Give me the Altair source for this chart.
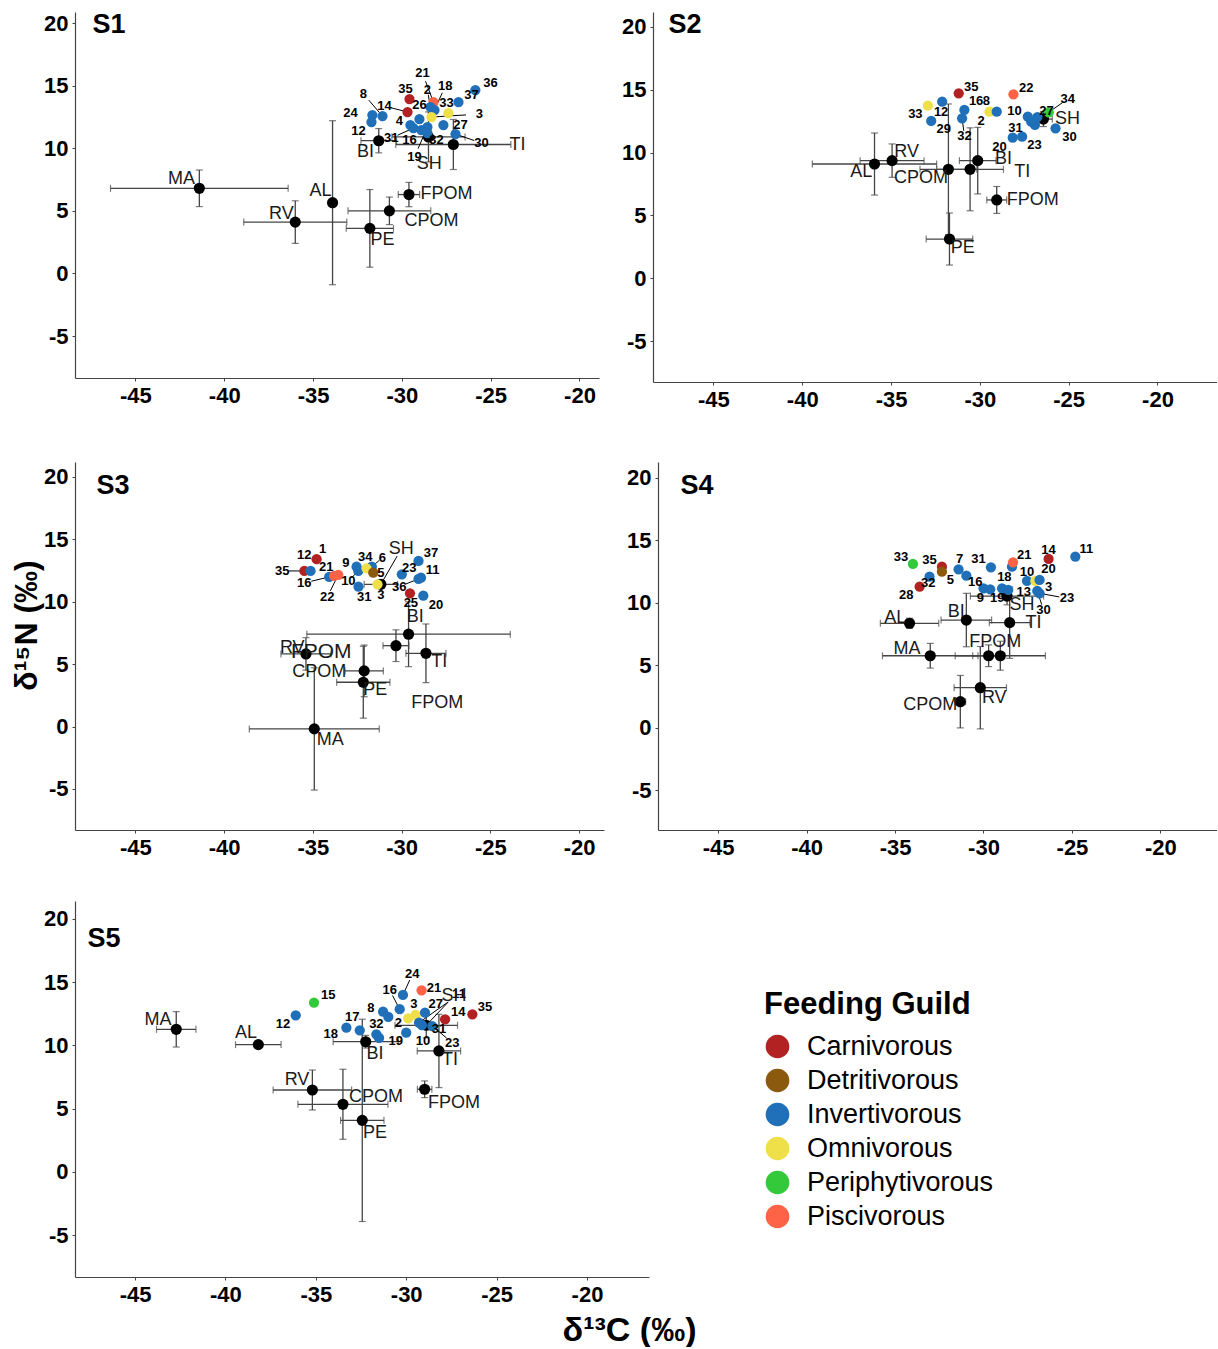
import altair as alt
import pandas as pd

FONT = "Liberation Sans"
GUILDS = ["Carnivorous", "Detritivorous", "Invertivorous", "Omnivorous", "Periphytivorous", "Piscivorous"]
GUILD_COLORS = ["#B22222", "#8B5A0F", "#1F70B8", "#EFE04A", "#33C93A", "#FF6347"]
GUILD_CODE = {"C": "Carnivorous", "D": "Detritivorous", "I": "Invertivorous",
              "O": "Omnivorous", "Pe": "Periphytivorous", "Pi": "Piscivorous"}
X_TICKS = [-45, -40, -35, -30, -25, -20]
Y_TICKS = [-5, 0, 5, 10, 15, 20]

# sources: name, d13C, d15N, sd13C, sd15N, label x, label y, leader line
S1_sources = [
    ("MA", -41.4, 6.8, 5.0, 1.46, -42.4, 7.54, 0),
    ("AL", -33.9, 5.65, 0.0, 6.55, -34.58, 6.58, 0),
    ("RV", -36.0, 4.1, 2.9, 1.7, -36.78, 4.74, 0),
    ("PE", -31.8, 3.6, 1.33, 3.1, -31.09, 2.67, 0),
    ("CPOM", -30.7, 5.0, 2.33, 1.1, -28.33, 4.19, 0),
    ("FPOM", -29.6, 6.3, 0.6, 0.97, -27.49, 6.34, 0),
    ("BI", -31.3, 10.6, 1.0, 0.97, -32.05, 9.7, 0),
    ("SH", -28.5, 10.9, 2.06, 2.0, -28.45, 8.74, 0),
    ("TI", -27.1, 10.3, 3.24, 2.0, -23.49, 10.26, 0),
]
S2_sources = [
    ("AL", -35.93, 9.09, 3.5, 2.47, -36.68, 8.43, 0),
    ("RV", -34.94, 9.36, 1.8, 1.33, -34.12, 10.07, 0),
    ("CPOM", -31.77, 8.67, 1.6, 5.2, -33.31, 7.95, 0),
    ("PE", -31.71, 3.12, 1.31, 2.07, -30.96, 2.38, 0),
    ("TI", -30.55, 8.67, 1.88, 3.3, -27.62, 8.48, 0),
    ("BI", -30.12, 9.36, 1.03, 2.65, -28.67, 9.49, 0),
    ("FPOM", -29.05, 6.23, 0.56, 1.07, -27.02, 6.23, 0),
    ("SH", -26.42, 12.67, 0.5, 0.6, -25.07, 12.67, 0),
]
S3_sources = [
    ("BI", -29.61, 7.4, 5.73, 2.6, -29.23, 8.78, 0),
    ("FPOM", -30.32, 6.48, 0.73, 1.27, -28.0, 1.89, 0),
    ("TI", -28.63, 5.87, 1.13, 2.35, -27.88, 5.2, 0),
    ("RV", -35.39, 5.82, 1.41, 1.3, -36.16, 6.3, 0),
    ("CPOM", -32.11, 4.46, 1.08, 2.07, -34.64, 4.38, 0),
    ("PE", -32.16, 3.55, 1.5, 2.88, -31.49, 2.93, 0),
    ("MA", -34.92, -0.19, 3.66, 4.9, -34.02, -1.07, 0),
    ("SH", -31.17, 11.4, 0.94, 0.3, -30.02, 14.23, 1),
]
S3_extra_labels = [("FPOM", -34.53, 5.98)]
S4_sources = [
    ("AL", -34.18, 8.36, 1.65, 0.4, -34.99, 8.76, 0),
    ("BI", -30.97, 8.62, 1.43, 2.14, -31.54, 9.29, 0),
    ("TI", -28.52, 8.41, 1.15, 2.86, -27.17, 8.41, 0),
    ("SH", -28.67, 10.54, 2.07, 0.7, -27.82, 9.82, 0),
    ("MA", -33.01, 5.76, 2.7, 0.99, -34.33, 6.27, 0),
    ("", -29.71, 5.76, 0.9, 0.87, -29.71, 5.76, 0),
    ("FPOM", -29.05, 5.76, 2.55, 1.16, -29.33, 6.88, 0),
    ("RV", -30.18, 3.2, 1.48, 3.3, -29.39, 2.35, 0),
    ("CPOM", -31.31, 2.08, 0.3, 2.1, -33.01, 1.81, 0),
]
S5_sources = [
    ("MA", -42.72, 11.27, 1.09, 1.4, -43.73, 12.01, 0),
    ("AL", -38.18, 10.06, 1.26, 0.2, -38.86, 10.98, 0),
    ("BI", -32.24, 10.29, 1.8, 0.5, -31.73, 9.32, 0),
    ("TI", -28.19, 9.56, 1.2, 2.9, -27.58, 8.84, 0),
    ("SH", -28.89, 11.59, 1.73, 0.99, -27.36, 13.91, 1),
    ("FPOM", -28.98, 6.53, 0.4, 0.66, -27.36, 5.44, 0),
    ("RV", -35.19, 6.47, 2.17, 1.58, -36.04, 7.26, 0),
    ("CPOM", -33.5, 5.34, 2.49, 2.77, -31.67, 5.92, 0),
    ("PE", -32.43, 4.07, 1.2, 8.0, -31.73, 3.07, 0),
]

# consumers: id, guild code, d13C, d15N, label x, label y, leader line
S1_consumers = [
    ("36", "I", -25.86, 14.65, -25.01, 15.21, 0),
    ("37", "I", -26.81, 13.69, -26.08, 14.25, 0),
    ("21", "Pi", -28.22, 13.69, -28.84, 16.0, 1),
    ("35", "C", -29.57, 13.93, -29.8, 14.73, 0),
    ("14", "C", -29.68, 12.89, -30.98, 13.37, 1),
    ("8", "I", -31.09, 12.57, -32.16, 14.33, 1),
    ("24", "I", -31.66, 12.65, -32.89, 12.81, 0),
    ("12", "I", -31.71, 12.09, -32.44, 11.37, 0),
    ("26", "I", -29.01, 12.33, -29.01, 13.45, 0),
    ("4", "I", -29.52, 11.85, -30.14, 12.17, 0),
    ("16", "I", -28.9, 11.45, -29.57, 10.66, 0),
    ("19", "I", -28.56, 11.69, -29.29, 9.3, 1),
    ("31", "I", -29.35, 11.61, -30.59, 10.81, 1),
    ("2", "I", -28.39, 13.29, -28.56, 14.65, 1),
    ("18", "I", -28.16, 13.05, -27.55, 14.97, 1),
    ("3", "O", -28.33, 12.49, -25.63, 12.73, 1),
    ("33", "O", -27.38, 12.81, -27.49, 13.61, 0),
    ("27", "I", -27.66, 11.85, -26.7, 11.85, 0),
    ("30", "I", -26.98, 11.13, -25.52, 10.42, 1),
    ("32", "I", -28.56, 11.21, -28.05, 10.66, 0),
]
S2_consumers = [
    ("35", "C", -31.19, 14.72, -30.49, 15.25, 0),
    ("22", "Pi", -28.11, 14.64, -27.39, 15.17, 0),
    ("33", "O", -32.93, 13.73, -33.63, 13.05, 0),
    ("12", "I", -32.12, 14.05, -32.18, 13.26, 0),
    ("29", "I", -32.74, 12.52, -32.03, 11.88, 0),
    ("16", "I", -30.87, 13.39, -30.21, 14.11, 0),
    ("32", "I", -31.0, 12.73, -30.87, 11.35, 1),
    ("2", "O", -29.46, 13.26, -29.93, 12.52, 0),
    ("8", "I", -29.05, 13.26, -29.64, 14.11, 0),
    ("10", "I", -27.3, 12.86, -28.05, 13.31, 0),
    ("31", "I", -27.11, 12.46, -27.99, 11.98, 0),
    ("", "I", -26.9, 12.2, -26.9, 12.2, 0),
    ("34", "Pe", -26.12, 13.21, -25.05, 14.27, 1),
    ("27", "I", -26.76, 12.83, -26.25, 13.31, 0),
    ("20", "I", -28.15, 11.19, -28.9, 10.47, 0),
    ("23", "I", -27.62, 11.27, -26.93, 10.6, 0),
    ("30", "I", -25.74, 11.93, -24.95, 11.27, 0),
]
S3_consumers = [
    ("35", "C", -35.48, 12.47, -36.73, 12.47, 1),
    ("12", "I", -35.13, 12.47, -35.48, 13.75, 0),
    ("16", "I", -34.08, 11.99, -35.48, 11.51, 1),
    ("1", "C", -34.79, 13.41, -34.45, 14.23, 0),
    ("21", "Pi", -33.8, 12.07, -34.25, 12.79, 0),
    ("22", "Pi", -33.57, 12.15, -34.19, 10.38, 1),
    ("9", "I", -32.54, 12.81, -33.14, 13.08, 0),
    ("10", "I", -32.44, 12.47, -33.0, 11.67, 1),
    ("6", "I", -31.68, 12.81, -31.08, 13.53, 1),
    ("34", "O", -31.98, 12.68, -32.05, 13.61, 0),
    ("5", "D", -31.6, 12.33, -31.17, 12.28, 0),
    ("31", "I", -32.43, 11.21, -32.11, 10.41, 0),
    ("3", "O", -31.36, 11.4, -31.17, 10.54, 0),
    ("23", "I", -29.99, 12.2, -29.57, 12.73, 0),
    ("37", "I", -29.05, 13.27, -28.35, 13.89, 0),
    ("11", "I", -28.91, 11.93, -28.26, 12.55, 0),
    ("36", "I", -29.05, 11.83, -30.14, 11.21, 1),
    ("25", "C", -29.53, 10.68, -29.48, 9.88, 0),
    ("20", "I", -28.78, 10.49, -28.07, 9.74, 0),
]
S4_consumers = [
    ("33", "Pe", -33.99, 13.11, -34.67, 13.69, 0),
    ("35", "C", -32.35, 12.89, -33.05, 13.43, 0),
    ("5", "D", -32.35, 12.49, -31.88, 11.83, 0),
    ("32", "I", -33.05, 12.09, -33.12, 11.59, 0),
    ("28", "C", -33.61, 11.29, -34.37, 10.62, 0),
    ("7", "I", -31.41, 12.68, -31.35, 13.51, 0),
    ("16", "I", -30.97, 12.17, -30.46, 11.69, 0),
    ("9", "I", -30.0, 11.16, -30.18, 10.36, 0),
    ("19", "I", -29.62, 11.08, -29.22, 10.38, 0),
    ("18", "I", -28.95, 11.16, -28.82, 12.09, 0),
    ("", "I", -28.39, 12.89, -28.39, 12.89, 0),
    ("21", "Pi", -28.33, 13.24, -27.69, 13.83, 0),
    ("31", "I", -29.58, 12.84, -30.28, 13.51, 0),
    ("13", "I", -28.6, 11.03, -27.73, 10.84, 0),
    ("10", "I", -27.54, 11.75, -27.54, 12.49, 0),
    ("3", "O", -27.07, 11.75, -26.32, 11.29, 0),
    ("20", "I", -26.83, 11.83, -26.32, 12.71, 0),
    ("14", "C", -26.32, 13.51, -26.32, 14.23, 0),
    ("11", "I", -24.81, 13.69, -24.19, 14.31, 0),
    ("23", "I", -26.83, 10.76, -25.28, 10.36, 1),
    ("30", "I", -26.96, 10.95, -26.61, 9.42, 1),
]
S5_consumers = [
    ("15", "Pe", -35.1, 13.38, -34.31, 13.99, 0),
    ("12", "I", -36.11, 12.38, -36.81, 11.72, 0),
    ("18", "I", -33.31, 11.4, -34.18, 10.9, 0),
    ("17", "I", -32.57, 11.19, -32.98, 12.25, 0),
    ("32", "I", -31.65, 10.88, -31.65, 11.72, 0),
    ("19", "I", -31.5, 10.59, -30.58, 10.35, 0),
    ("8", "I", -31.28, 12.67, -31.96, 12.98, 0),
    ("", "I", -30.99, 12.25, -30.99, 12.25, 0),
    ("16", "I", -30.36, 12.86, -30.91, 14.36, 1),
    ("24", "I", -30.18, 13.99, -29.66, 15.62, 1),
    ("21", "Pi", -29.15, 14.36, -28.46, 14.52, 0),
    ("2", "O", -29.89, 12.14, -30.44, 11.8, 0),
    ("3", "O", -29.48, 12.41, -29.57, 13.25, 0),
    ("27", "I", -28.96, 12.59, -28.37, 13.3, 0),
    ("11", "I", -29.29, 11.8, -27.08, 14.04, 1),
    ("10", "I", -30.0, 11.0, -29.07, 10.35, 0),
    ("31", "I", -29.13, 11.61, -28.19, 11.27, 0),
    ("23", "I", -28.56, 11.53, -27.45, 10.21, 1),
    ("14", "C", -27.85, 12.06, -27.12, 12.67, 0),
    ("35", "C", -26.34, 12.46, -25.64, 13.04, 0),
]

ERR_COLOR = "#444444"
LEGEND = alt.Legend(
    title="Feeding Guild", orient="none", legendX=689, legendY=978,
    titleFontSize=31, titleFontWeight="bold", titleFont=FONT, titleColor="black",
    titleLimit=0, labelLimit=0,
    labelFontSize=27, labelFont=FONT, labelColor="black", symbolType="circle",
    symbolSize=560, symbolStrokeWidth=0, symbolOpacity=1, rowPadding=6,
    labelOffset=16, titlePadding=12,
)
COLOR = alt.Color("guild:N", scale=alt.Scale(domain=GUILDS, range=GUILD_COLORS), legend=LEGEND)


def make_axis(kind, title, show_title, title_x=None, title_y=None):
    kw = dict(values=X_TICKS if kind == "x" else Y_TICKS, grid=False, labelFontSize=22,
              labelFontWeight="bold", labelFont=FONT, labelColor="black", domainColor=ERR_COLOR,
              domainWidth=1.2, tickColor=ERR_COLOR, tickSize=3, labelPadding=4,
              labelExpr="'' + datum.value")
    if title is not None:
        kw.update(title=title, titleFontSize=34 if kind == "x" else 32, titleFontWeight="bold",
                  titleFont=FONT, titleColor="black", titleOpacity=1 if show_title else 0,
                  titlePadding=8 if kind == "x" else 0)
        if title_x is not None:
            kw["titleX"] = title_x
        if title_y is not None:
            kw["titleY"] = title_y
    else:
        kw["title"] = None
    return alt.Axis(**kw)


def panel(name, sources, consumers, xdom, ydom, w, h, xaxis, yaxis, title_pos, extra=None):
    s = pd.DataFrame(sources, columns=["name", "x", "y", "xe", "ye", "lx", "ly", "seg"])
    s["xmin"] = s.x - s.xe
    s["xmax"] = s.x + s.xe
    s["ymin"] = s.y - s.ye
    s["ymax"] = s.y + s.ye
    c = pd.DataFrame(consumers, columns=["id", "g", "x", "y", "lx", "ly", "seg"])
    c["guild"] = c.g.map(GUILD_CODE)

    xs = alt.Scale(domain=xdom, nice=False, zero=False)
    ys = alt.Scale(domain=ydom, nice=False, zero=False)

    def X(f):
        return alt.X(f, type="quantitative", scale=xs, axis=xaxis)

    def Y(f):
        return alt.Y(f, type="quantitative", scale=ys, axis=yaxis)

    hx = s[s.xe > 0]
    vy = s[s.ye > 0]
    xcaps = pd.concat([hx[["xmin", "y"]].rename(columns={"xmin": "cx"}),
                       hx[["xmax", "y"]].rename(columns={"xmax": "cx"})])
    ycaps = pd.concat([vy[["x", "ymin"]].rename(columns={"ymin": "cy"}),
                       vy[["x", "ymax"]].rename(columns={"ymax": "cy"})])

    layers = [
        alt.Chart(hx).mark_rule(color=ERR_COLOR, strokeWidth=1.3).encode(x=X("xmin"), x2="xmax", y=Y("y")),
        alt.Chart(vy).mark_rule(color=ERR_COLOR, strokeWidth=1.3).encode(x=X("x"), y=Y("ymin"), y2="ymax"),
        alt.Chart(xcaps).mark_tick(color=ERR_COLOR, orient="vertical", size=7, thickness=1.2).encode(x=X("cx"), y=Y("y")),
        alt.Chart(ycaps).mark_tick(color=ERR_COLOR, orient="horizontal", size=7, thickness=1.2).encode(x=X("x"), y=Y("cy")),
        alt.Chart(s).mark_circle(color="black", size=125, opacity=1).encode(x=X("x"), y=Y("y")),
    ]
    sseg = s[s.seg == 1].copy()
    if len(sseg):
        sseg["ex"] = sseg.x + 0.8 * (sseg.lx - sseg.x)
        sseg["ey"] = sseg.y + 0.8 * (sseg.ly - sseg.y)
        layers.append(alt.Chart(sseg).mark_rule(color="black", strokeWidth=1).encode(
            x=X("x"), y=Y("y"), x2="ex", y2="ey"))
    cseg = c[c.seg == 1].copy()
    if len(cseg):
        cseg["ex"] = cseg.x + 0.72 * (cseg.lx - cseg.x)
        cseg["ey"] = cseg.y + 0.72 * (cseg.ly - cseg.y)
        layers.append(alt.Chart(cseg).mark_rule(color="black", strokeWidth=1).encode(
            x=X("x"), y=Y("y"), x2="ex", y2="ey"))
    layers += [
        alt.Chart(c).mark_circle(size=105, opacity=1).encode(x=X("x"), y=Y("y"), color=COLOR),
        alt.Chart(c).mark_text(font=FONT, fontSize=13, fontWeight="bold", color="black").encode(
            x=X("lx"), y=Y("ly"), text="id:N"),
        alt.Chart(s).mark_text(font=FONT, fontSize=18, color="#1a1a1a").encode(
            x=X("lx"), y=Y("ly"), text="name:N"),
    ]
    if extra:
        e = pd.DataFrame(extra, columns=["name", "lx", "ly"])
        layers.append(alt.Chart(e).mark_text(font=FONT, fontSize=21, color="#1a1a1a").encode(
            x=X("lx"), y=Y("ly"), text="name:N"))
    layers.append(
        alt.Chart(pd.DataFrame({"t": [name]})).mark_text(
            font=FONT, fontSize=27, fontWeight="bold", color="black").encode(
            text="t:N", x=alt.value(title_pos[0]), y=alt.value(title_pos[1])))
    return alt.layer(*layers).properties(width=w, height=h)


YT = "δ¹⁵N (‰)"
XT = "δ¹³C (‰)"

p1 = panel("S1", S1_sources, S1_consumers, [-48.4, -18.9], [-8.35, 20.88], 524, 366,
           make_axis("x", None, False), make_axis("y", YT, False), (34, 13))
p2 = panel("S2", S2_sources, S2_consumers, [-48.4, -16.65], [-8.26, 21.19], 564, 370,
           make_axis("x", None, False), make_axis("y", None, False), (32, 13))
p3 = panel("S3", S3_sources, S3_consumers, [-48.4, -18.6], [-8.29, 21.2], 529, 368,
           make_axis("x", None, False), make_axis("y", YT, True, title_y=163), (38, 24),
           extra=S3_extra_labels)
p4 = panel("S4", S4_sources, S4_consumers, [-48.4, -16.8], [-8.2, 21.28], 559, 368,
           make_axis("x", None, False), make_axis("y", None, False), (39, 24))
p5 = panel("S5", S5_sources, S5_consumers, [-48.32, -16.57], [-8.32, 21.42], 574, 376,
           make_axis("x", XT, True, title_x=554), make_axis("y", YT, False), (29, 38))

row1 = alt.hconcat(p1, p2, spacing=22)
row2 = alt.hconcat(p3, p4, spacing=22)
top = alt.vconcat(row1, row2, spacing=52)
chart = alt.vconcat(top, p5, spacing=43).properties(
    padding={"left": 10, "top": 11, "right": 0, "bottom": 0}
).configure(font=FONT, view=alt.ViewConfig(stroke=None))

chart.save("out.html", embed_options={"renderer": "svg", "actions": False})
